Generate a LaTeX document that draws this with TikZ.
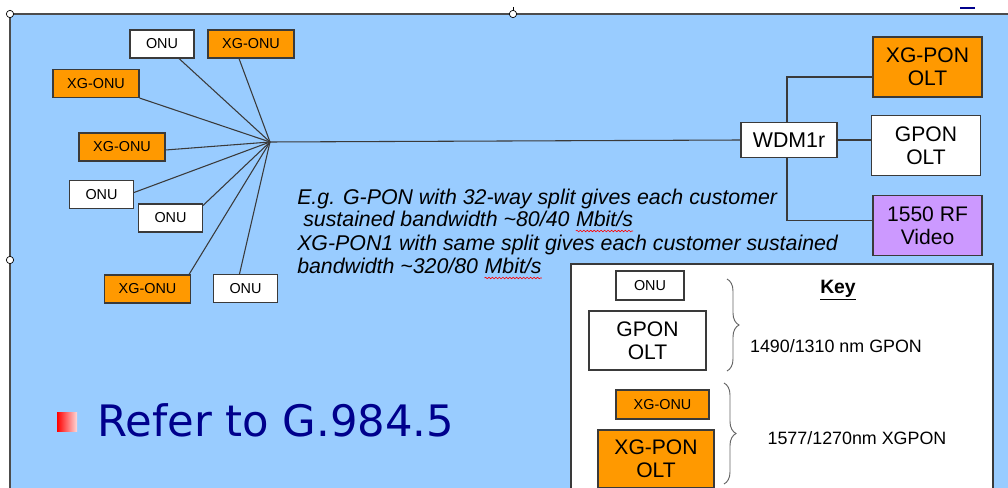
\documentclass[tikz,border=0pt]{standalone}
\usepackage{fontspec}
\setmainfont{Liberation Sans}
\newfontfamily\dejavu{DejaVu Sans}
\usetikzlibrary{calc,decorations.pathreplacing,decorations.pathmorphing}
\definecolor{bgblue}{HTML}{99CCFF}
\definecolor{orng}{HTML}{FF9900}
\definecolor{lav}{HTML}{CC99FF}
\definecolor{edgec}{HTML}{3A3A3A}
\definecolor{navyc}{RGB}{0,0,140}
\begin{document}
\begin{tikzpicture}[x=0.75pt,y=-0.75pt,
  box/.style={draw=edgec, line width=0.8pt, inner sep=0pt, align=center, text=black},
  onu/.style={box, fill=white, minimum width=48pt, minimum height=21pt, font=\fontsize{10.8}{12}\selectfont},
  xgonu/.style={box, fill=orng, minimum width=64.5pt, minimum height=21pt, font=\fontsize{10.8}{12}\selectfont},
  olt/.style={box, minimum width=81.75pt, minimum height=45pt, font=\fontsize{15.8}{17.25}\selectfont},
  link/.style={draw=edgec, line width=0.8pt},
  handle/.style={circle, draw=black, fill=white, line width=0.5pt, inner sep=0pt, minimum size=5.5pt},
  itx/.style={anchor=base west, inner sep=0pt, font=\fontsize{16}{18}\selectfont\itshape},
  keybrace/.style={draw=gray!80!black, line width=0.7pt, decorate, decoration={brace, amplitude=9pt}},
  squig/.style={draw=red, line width=0.45pt, decorate, decoration={snake, amplitude=0.6pt, segment length=2.6pt}}
]
\useasboundingbox (0,0) rectangle (1008,488);
\fill[white] (0,0) rectangle (1008,488);
\fill[bgblue] (10,14) rectangle (1010,490);
\draw[gray!60!black, line width=1.2pt] (10,490) -- (10,14) -- (1010,14);
\draw[navyc, line width=1.5pt] (960,8) -- (975,8);
\draw[black, line width=0.5pt] (513,7) -- (513,12);

% hub
\coordinate (hub) at (270,142);

% ONUs
\node[onu]   (n1) at (162,44)    {ONU};
\node[xgonu] (n2) at (251,44)    {XG-ONU};
\node[xgonu] (n3) at (96,83.5)   {XG-ONU};
\node[xgonu] (n4) at (122,147)   {XG-ONU};
\node[onu]   (n5) at (101.5,194.5) {ONU};
\node[onu]   (n6) at (170.5,218) {ONU};
\node[xgonu] (n7) at (147.5,289) {XG-ONU};
\node[onu]   (n8) at (245.5,288.5) {ONU};

% right side
\node[box, fill=white, minimum width=72pt, minimum height=26.25pt, font=\fontsize{16}{18}\selectfont] (wdm) at (789,140) {WDM1r};
\node[olt, fill=orng]  (xg)   at (927.5,67)    {XG-PON\\OLT};
\node[olt, fill=white] (gpon) at (926,145.5)   {GPON\\OLT};
\node[olt, fill=lav]   (vid)  at (927.5,225.5) {1550 RF\\Video};

% connectors
\draw[link] ($(n1.south)+(17,0)$) -- (hub);
\draw[link] ($(n2.south)+(-12,0)$) -- (hub);
\draw[link] (n3.south east) -- (hub);
\draw[link] ($(n4.east)+(0,3)$) -- (hub);
\draw[link] ($(n5.east)+(0,-2)$) -- (hub);
\draw[link] ($(n6.north east)+(0,2)$) -- (hub);
\draw[link] ($(n7.north east)+(-2,0)$) -- (hub);
\draw[link] ($(n8.north)+(-6,0)$) -- (hub);
\draw[link] (hub) -- (wdm.west);
\draw[link] ($(wdm.north)+(-2,0)$) |- ($(xg.west)+(0,10)$);
\draw[link] (wdm.east) -- (wdm.east -| gpon.west);
\draw[link] ($(wdm.south)+(-2,0)$) |- ($(vid.west)+(0,-5)$);

% text
\node[itx] (t1) at (297,205) {E.g. G-PON with 32-way split gives each customer};
\node[itx] (t2) at (303,227) {sustained bandwidth \textasciitilde80/40};
\node[itx] (m2) at ($(t2.base east)+(6,0)$) {Mbit/s};
\node[itx] (t3) at (297,251) {XG-PON1 with same split gives each customer sustained};
\node[itx] (t4) at (297,274) {bandwidth \textasciitilde320/80};
\node[itx] (m4) at ($(t4.base east)+(6,0)$) {Mbit/s};
\draw[squig] ($(m2.base west)+(0,4)$) -- ($(m2.base east)+(0,4)$);
\draw[squig] ($(m4.base west)+(0,4)$) -- ($(m4.base east)+(0,4)$);

% key
\draw[edgec, line width=0.8pt, fill=white] (571,264) rectangle (993,495);
\node[onu, minimum width=51pt, minimum height=21.75pt] (k1) at (650,285.5) {ONU};
\node[olt, fill=white, minimum width=87.75pt, minimum height=44.25pt] (k2) at (647.5,340.5) {GPON\\OLT};
\node[xgonu, minimum width=69.75pt, minimum height=21.75pt] (k3) at (662.5,404.5) {XG-ONU};
\node[olt, fill=orng, minimum width=87pt, minimum height=43.5pt] (k4) at (656,459) {XG-PON\\OLT};
\draw[keybrace] (727,279) -- (727,371);
\draw[keybrace] (724,383) -- (724,484);
\node[inner sep=0pt, font=\fontsize{14.5}{16}\selectfont\bfseries] (key) at (838,290) {\underline{Key}};
\node[inner sep=0pt, font=\fontsize{13.4}{15}\selectfont] (w1) at (836,346) {1490/1310 nm GPON};
\node[inner sep=0pt, font=\fontsize{13.4}{15}\selectfont] (w2) at (857,438) {1577/1270nm XGPON};

% refer
\shade[left color=red, right color=red!15] (57,413) rectangle (77,432);
\node[anchor=base west, inner sep=0pt, text=navyc, font=\dejavu\fontsize{32.5}{35}\selectfont] (ref) at (97,437) {Refer to G.984.5};

% handles
\node[handle] (h1) at (10,14) {};
\node[handle] (h2) at (513,14) {};
\node[handle] (h3) at (10,260) {};
\end{tikzpicture}
\end{document}
